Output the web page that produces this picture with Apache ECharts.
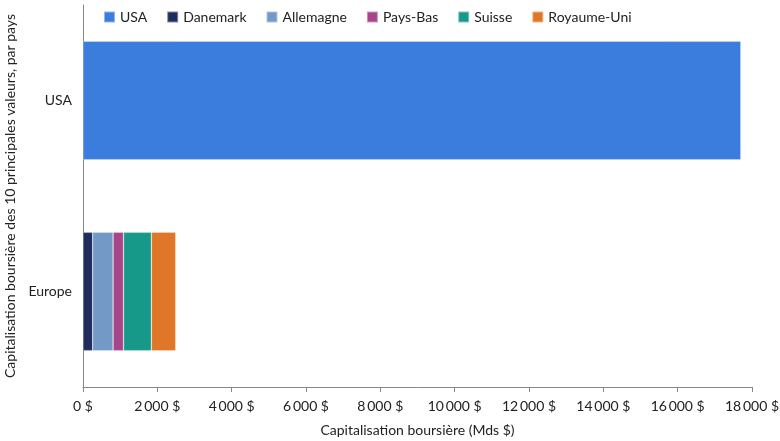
<!DOCTYPE html>
<html><head><meta charset="utf-8">
<script src="https://cdn.jsdelivr.net/npm/echarts@6/dist/echarts.min.js"></script>
<style>html,body{margin:0;padding:0;background:#fff}#c{width:780px;height:441px}</style>
</head><body><div id="c"></div>
<script>
const categories = ['USA', 'Europe'];
const seriesNames = ['USA', 'Danemark', 'Allemagne', 'Pays-Bas', 'Suisse', 'Royaume-Uni'];
const usaValues = [17700, null];
const danemarkValues = [null, 260];
const allemagneValues = [null, 550];
const paysBasValues = [null, 280];
const suisseValues = [null, 750];
const royaumeUniValues = [null, 655];
const colors = ['#3B7DDD', '#1F2D5E', '#7399C6', '#A7458A', '#17998A', '#E07627'];
const xTicks = [0, 2000, 4000, 6000, 8000, 10000, 12000, 14000, 16000, 18000];

const allValues = [usaValues, danemarkValues, allemagneValues, paysBasValues, suisseValues, royaumeUniValues];
const font = 'Lato, "Noto Sans", sans-serif';
const fmt = v => (v >= 1000 ? Math.floor(v/1000) + '\u2009' + String(v%1000).padStart(3,'0') : String(v)) + ' $';

const chart = echarts.init(document.getElementById('c'));
chart.setOption({
  animation: false,
  textStyle: {fontFamily: font},
  legend: {
    top: 5, left: 98, itemWidth: 11, itemHeight: 11, itemGap: 19,
    icon: 'rect',
    textStyle: {fontSize: 14, color: '#222', fontFamily: font},
    data: seriesNames
  },
  grid: {left: 83, right: 28, top: 5, bottom: 54, containLabel: false, outerBoundsMode: 'none'},
  xAxis: {
    type: 'value', min: xTicks[0], max: xTicks[xTicks.length-1], interval: 2000,
    name: 'Capitalisation boursière (Mds $)', nameLocation: 'middle', nameGap: 36,
    nameTextStyle: {fontSize: 14, color: '#222'},
    axisLine: {show: true, lineStyle: {color: '#888'}},
    axisTick: {show: true, length: 5, lineStyle: {color: '#888'}},
    axisLabel: {fontSize: 14, color: '#222', margin: 12, formatter: fmt},
    splitLine: {show: false}
  },
  yAxis: {
    type: 'category', data: categories, inverse: true,
    name: 'Capitalisation boursière des 10 principales valeurs, par pays',
    nameLocation: 'middle', nameGap: 65,
    nameTextStyle: {fontSize: 14, color: '#222'},
    axisLine: {show: true, lineStyle: {color: '#888'}},
    axisTick: {show: false},
    axisLabel: {fontSize: 14, color: '#222', margin: 11}
  },
  series: seriesNames.map((n, i) => ({
    name: n, type: 'bar', stack: 'total', data: allValues[i],
    barCategoryGap: '38%',
    itemStyle: {color: colors[i], borderColor: 'rgba(255,255,255,0.45)', borderWidth: 0.6}
  }))
});
</script></body></html>
